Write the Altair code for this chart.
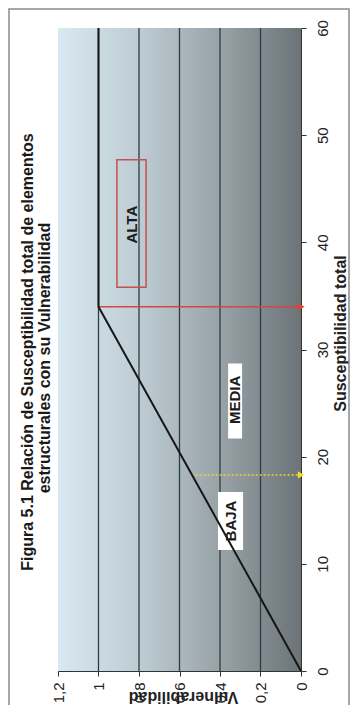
import altair as alt
import pandas as pd

# ---- values ----
curve_s = [0, 34, 60]
curve_v = [0, 1, 1]
grid_v = [0.2, 0.4, 0.6, 0.8, 1.0]
red_s = [34, 34]
red_v = [1, 0]
yellow_s = [18.3, 18.3]
yellow_v = [0.54, 0]
v_ticks = [0, 0.2, 0.4, 0.6, 0.8, 1, 1.2]
s_ticks = [0, 10, 20, 30, 40, 50, 60]
zone_labels = ["ALTA", "MEDIA", "BAJA"]
zone_v = [0.837, 0.326, 0.346]
zone_s = [41.65, 25.3, 14.0]
alta_v = [0.765, 0.909]
alta_s = [35.8, 47.7]
box_v1 = [0.291, 0.286]
box_v2 = [0.360, 0.410]
box_s1 = [21.7, 11.3]
box_s2 = [28.7, 16.7]
title_lines = ["Figura 5.1 Relación de Susceptibilidad total de elementos",
               "estructurales con su Vulnerabilidad"]

FONT = "Liberation Sans"
W, H = 243, 643

xscale = alt.Scale(domain=[0, 1.2], reverse=True, nice=False, zero=False)
yscale = alt.Scale(domain=[0, 60], nice=False, zero=False)

xaxis = alt.Axis(values=v_ticks, format=".1~f", labelExpr="replace(datum.label, '.', ',')",
                 labelAngle=270, labelAlign="right", labelBaseline="middle",
                 labelFontSize=15, labelFont=FONT, labelColor="#222", labelPadding=6,
                 labelFlush=False, labelOverlap=False, labelBound=False,
                 tickSize=5, tickColor="#333", domainColor="#333", grid=False,
                 title="Vulnerabilidad", titleAngle=180, titleX=125, titleY=25,
                 titleAlign="center", titleBaseline="middle", titleFontSize=16,
                 titleFontWeight="bold", titleFont=FONT, titleColor="#222")
yaxis = alt.Axis(orient="right", values=s_ticks, labelAngle=270, labelAlign="center",
                 labelBaseline="top", labelFontSize=15, labelFont=FONT, labelColor="#222",
                 labelPadding=9, labelFlush=False, labelOverlap=False, labelBound=False,
                 tickSize=5, tickColor="#333", domainColor="#333", grid=False,
                 title="Susceptibilidad total", titleAngle=270, titleX=39, titleY=305,
                 titleAlign="center", titleBaseline="middle", titleFontSize=16,
                 titleFontWeight="bold", titleFont=FONT, titleColor="#222")


def X(f="v"):
    return alt.X(f + ":Q", scale=xscale, axis=xaxis)


def Y(f="s"):
    return alt.Y(f + ":Q", scale=yscale, axis=yaxis)


one = pd.DataFrame({"a": [0]})

bg_df = pd.DataFrame({"v": [v_ticks[-1]], "v2": [v_ticks[0]], "s": [s_ticks[0]], "s2": [s_ticks[-1]]})
background = alt.Chart(bg_df).mark_rect(
    color=alt.Gradient(gradient="linear", x1=0, x2=1, y1=0, y2=0,
                       stops=[alt.GradientStop(color="#d9e9f1", offset=0),
                              alt.GradientStop(color="#bccbd2", offset=0.35),
                              alt.GradientStop(color="#949ea3", offset=0.7),
                              alt.GradientStop(color="#6b7377", offset=1)])
).encode(x=X(), x2="v2:Q", y=Y(), y2="s2:Q")

grid = alt.Chart(pd.DataFrame({"v": grid_v})).mark_rule(color="#2e3c43", strokeWidth=1.3).encode(x=X())

frame = alt.Chart(one).mark_rect(
    fillOpacity=0, stroke="#8a8a8a", strokeWidth=1.5
).encode(x=alt.value(-49), x2=alt.value(291), y=alt.value(-19), y2=alt.value(720))

title_marks = [
    alt.Chart(one).mark_text(
        angle=270, fontSize=16, fontWeight="bold", font=FONT, color="#1a1a1a",
        align="center", baseline="middle"
    ).encode(x=alt.value(px), y=alt.value(py), text=alt.value(line))
    for line, px, py in zip(title_lines, [-30, -13], [324, 330])
]

boxes_df = pd.DataFrame({"v": box_v1, "v2": box_v2, "s": box_s1, "s2": box_s2})
white_boxes = alt.Chart(boxes_df).mark_rect(fill="white").encode(x=X(), x2="v2:Q", y=Y(), y2="s2:Q")

alta_df = pd.DataFrame({"v": [alta_v[0]], "v2": [alta_v[1]], "s": [alta_s[0]], "s2": [alta_s[1]]})
alta_box = alt.Chart(alta_df).mark_rect(fillOpacity=0, stroke="#c4524c", strokeWidth=1.5).encode(
    x=X(), x2="v2:Q", y=Y(), y2="s2:Q")

red_df = pd.DataFrame({"v": [red_v[0]], "v2": [red_v[1]], "s": [red_s[0]]})
red_line = alt.Chart(red_df).mark_rule(color="#d8463e", strokeWidth=1.5).encode(x=X(), x2="v2:Q", y=Y())
red_arrow = alt.Chart(pd.DataFrame({"v": [red_v[1]], "s": [red_s[1]]})).mark_point(
    shape="triangle-right", filled=True, size=70, color="#d8463e", opacity=1).encode(x=X(), y=Y())

yel_df = pd.DataFrame({"v": [yellow_v[0]], "v2": [yellow_v[1]], "s": [yellow_s[0]]})
yel_line = alt.Chart(yel_df).mark_rule(color="#e8d43c", strokeWidth=1.5, strokeDash=[2, 2]).encode(
    x=X(), x2="v2:Q", y=Y())
yel_mark = alt.Chart(pd.DataFrame({"v": [yellow_v[1]], "s": [yellow_s[1]]})).mark_point(
    shape="triangle-right", filled=True, size=55, color="#f2dc28", opacity=1).encode(x=X(), y=Y())

curve = alt.Chart(pd.DataFrame({"v": curve_v, "s": curve_s})).mark_line(
    color="#161616", strokeWidth=2).encode(x=X(), y=Y(), order="s:Q")

labels = alt.Chart(pd.DataFrame({"v": zone_v, "s": zone_s, "t": zone_labels})).mark_text(
    angle=270, fontSize=15, fontWeight="bold", font=FONT, color="#1c1c1c",
    align="center", baseline="middle").encode(x=X(), y=Y(), text="t:N")

chart = alt.layer(
    background, grid, white_boxes, alta_box, red_line, yel_line, curve, red_arrow, yel_mark,
    labels, frame, *title_marks
).properties(
    width=W, height=H,
    autosize=alt.AutoSizeParams(type="none"),
    padding={"left": 50, "top": 20, "right": 50, "bottom": 34},
    background="white",
).configure_view(strokeWidth=0)

chart.save("out.html", embed_options={"renderer": "svg", "actions": False})
